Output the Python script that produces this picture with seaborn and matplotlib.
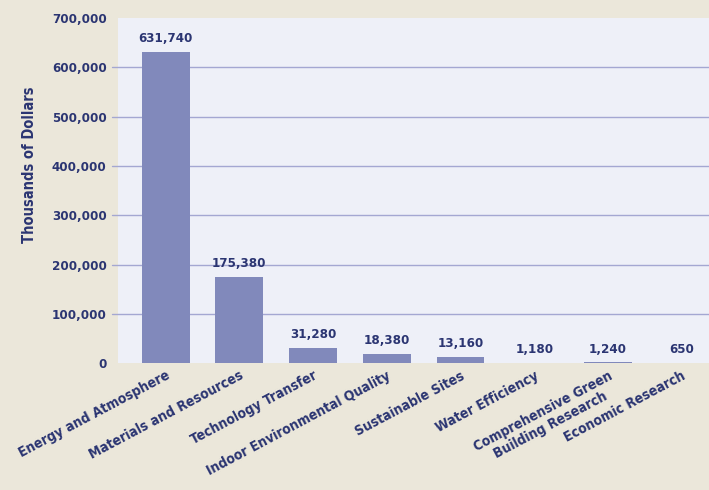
import matplotlib
matplotlib.use('Agg')
import matplotlib.pyplot as plt
import seaborn as sns
import pandas as pd

categories = ['Energy and Atmosphere', 'Materials and Resources', 'Technology Transfer',
              'Indoor Environmental Quality', 'Sustainable Sites', 'Water Efficiency',
              'Comprehensive Green\nBuilding Research', 'Economic Research']
funding = [631740, 175380, 31280, 18380, 13160, 1180, 1240, 650]
y_ticks = [0, 100000, 200000, 300000, 400000, 500000, 600000, 700000]

text_color = '#2b3572'
bar_color = '#8189bb'
grid_color = '#a4a7d2'

sns.set_style('white')
plt.rcParams['font.family'] = ['DejaVu Sans']
plt.rcParams['font.weight'] = 'bold'
plt.rcParams['font.stretch'] = 'condensed'

df = pd.DataFrame({'Category': categories, 'Funding': funding})

fig = plt.figure(figsize=(7.09, 4.9), dpi=100, facecolor='#ebe7da')
ax = fig.add_axes([0.166, 0.259, 0.834, 0.704])
ax.set_facecolor('#eef0f8')

sns.barplot(data=df, x='Category', y='Funding', color=bar_color, width=0.65,
            saturation=1, linewidth=0, ax=ax, zorder=3)

ax.set_ylim(0, 700000)
ax.set_xlim(-0.65, 7.37)
ax.set_yticks(y_ticks)
ax.set_yticklabels([f'{v:,}' for v in y_ticks], fontsize=9.5, color=text_color,
                   fontweight='bold')
for v in y_ticks[1:-1]:
    ax.axhline(v, color=grid_color, lw=1.0, zorder=1, xmin=-0.01, clip_on=False)

ax.set_xticks(range(len(categories)))
ax.set_xticklabels(categories, rotation=28, ha='right', rotation_mode='anchor',
                   fontsize=10, color=text_color, fontweight='bold',
                   multialignment='center')
ax.tick_params(axis='y', length=0, pad=8)
ax.tick_params(axis='x', length=0, pad=4)

ax.bar_label(ax.containers[0], labels=[f'{v:,}' for v in funding], padding=5,
             fontsize=9.5, color=text_color, fontweight='bold')

ax.set_xlabel('')
ax.set_ylabel('Thousands of Dollars', fontsize=10.5, color=text_color,
              fontweight='bold')
ax.yaxis.set_label_coords(-0.136, 0.574)
for s in ax.spines.values():
    s.set_visible(False)

fig.savefig('out.png', dpi=100, facecolor=fig.get_facecolor())
